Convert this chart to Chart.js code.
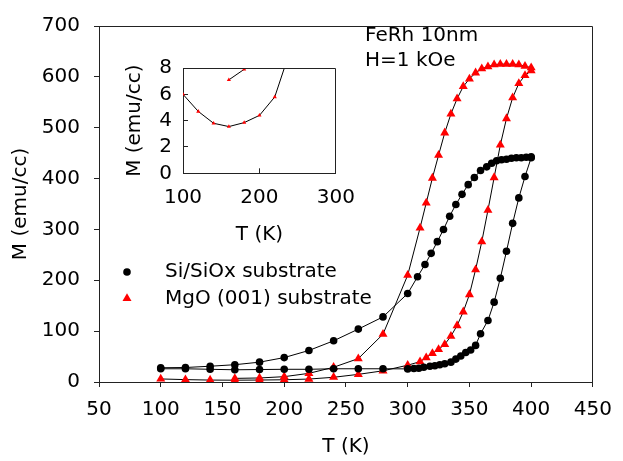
<!DOCTYPE html>
<html>
<head>
<meta charset="utf-8">
<title>FeRh 10nm M-T</title>
<script src="https://cdn.jsdelivr.net/npm/chart.js@4.4.1/dist/chart.umd.min.js"></script>
<style>
  html, body { margin: 0; padding: 0; background: #fff; }
  #wrap { position: relative; width: 623px; height: 461px; }
  #main { position: absolute; left: 0; top: 0; }
  #inset { position: absolute; left: 110px; top: 40px; }
</style>
</head>
<body>
<div id="wrap">
  <canvas id="main" width="623" height="461"></canvas>
  <canvas id="inset" width="262" height="220"></canvas>
</div>
<script>
// ==================== Data ====================
// Si/SiOx substrate: heating run 100 -> 400 K
const siHeatT = [100, 120, 140, 160, 180, 200, 220, 240, 260, 280, 300, 305, 309, 313, 318, 322, 326, 330, 335, 339, 343, 347, 351, 355, 359, 365, 370, 375, 380, 385, 390, 395, 400];
const siHeatM = [26, 26, 25, 24, 24.5, 25, 25, 26, 26, 26, 25.8, 26.5, 27, 29, 31, 32, 34, 36, 39, 45, 51, 58, 63, 72, 95, 121, 157, 204, 257, 312, 362, 404, 441];
// Si/SiOx substrate: cooling run 400 -> 100 K
const siCoolT = [400, 396, 392, 388, 384, 380, 376, 372, 368, 364, 359, 354, 349, 344, 339, 334, 329, 324, 319, 314, 308, 300, 280, 260, 240, 220, 200, 180, 160, 140, 120, 100];
const siCoolM = [443, 442, 441, 441, 440, 438, 437, 435, 430, 423, 416, 402, 388, 369, 349, 326, 300, 276, 253, 231, 207, 174, 128, 104, 81, 62, 48, 39, 34, 31, 28.5, 28];

// MgO (001) substrate: heating run 100 -> 400 K
const mgoHeatT = [100, 120, 140, 160, 180, 200, 220, 240, 260, 280, 300, 310, 315, 320, 325, 330, 335, 340, 345, 350, 355, 360, 365, 370, 375, 380, 385, 390, 395, 400];
const mgoHeatM = [6.0, 4.7, 3.8, 3.55, 3.85, 4.4, 5.8, 9.3, 15, 22, 33, 40, 48, 56, 64, 74, 90, 111, 138, 172, 221, 276, 338, 402, 466, 518, 559, 587, 603, 612];
// MgO (001) substrate: cooling run 400 -> 160 K
const mgoCoolT = [400, 395, 390, 385, 380, 375, 370, 365, 360, 355, 350, 345, 340, 335, 330, 325, 320, 315, 310, 300, 280, 260, 240, 220, 200, 180, 160];
const mgoCoolM = [618, 621, 624, 625, 625, 625, 624, 620, 616, 608, 596, 581, 557, 527, 490, 446, 401, 352, 303, 210, 94, 46, 29, 17, 10.5, 7.9, 7.1];

const mainXTicks = [50, 450, 50];   // min, max, step
const mainYTicks = [0, 700, 100];
const insetXTicks = [100, 300, 100];
const insetYTicks = [0, 8, 2];

const notes = ['FeRh 10nm', 'H=1 kOe'];

// ==================== Setup ====================
const AXIS = '#222';
Chart.defaults.font.family = 'DejaVu Sans';
Chart.defaults.font.size = 20;
Chart.defaults.color = '#000';
Chart.defaults.animation = false;

// heating points followed by cooling points, so the line closes the loop
function loop(tUp, mUp, tDown, mDown) {
    const up = tUp.map((t, i) => ({x: t, y: mUp[i]}));
    const down = tDown.map((t, i) => ({x: t, y: mDown[i]}));
    return up.concat(down);
}

const siLoop = loop(siHeatT, siHeatM, siCoolT, siCoolM);
const mgoLoop = loop(mgoHeatT, mgoHeatM, mgoCoolT, mgoCoolM);

// top + right edges of the plot box
const frame = {
    id: 'frame',
    afterDraw(chart) {
        const {ctx, chartArea: a} = chart;
        ctx.save();
        ctx.strokeStyle = AXIS;
        ctx.lineWidth = 1;
        ctx.beginPath();
        ctx.moveTo(Math.round(a.left) + 0.5, Math.round(a.top) + 0.5);
        ctx.lineTo(Math.round(a.right) - 0.5, Math.round(a.top) + 0.5);
        ctx.lineTo(Math.round(a.right) - 0.5, Math.round(a.bottom) + 0.5);
        ctx.stroke();
        ctx.restore();
    }
};

// legend + sample note, placed inside the plot
const labels = {
    id: 'labels',
    afterDraw(chart) {
        const ctx = chart.ctx;
        ctx.save();
        ctx.font = '20px "DejaVu Sans"';
        ctx.textBaseline = 'middle';
        ctx.textAlign = 'left';
        chart.data.datasets.forEach((ds, i) => {
            const y = 272 + i * 26.5;
            ctx.fillStyle = ds.pointBackgroundColor;
            Chart.helpers.drawPoint(ctx, {pointStyle: ds.pointStyle, radius: ds.pointRadius, rotation: 0, borderWidth: 0}, 127, y);
            ctx.fillStyle = '#000';
            ctx.fillText(ds.label, 165, y);
        });
        notes.forEach((t, i) => ctx.fillText(t, 365, 36 + i * 25));
        ctx.restore();
    }
};

function axisOpts(t, tickLen, pad) {
    return {
        type: 'linear', min: t[0], max: t[1],
        ticks: {stepSize: t[2], padding: pad, autoSkip: false, maxRotation: 0},
        grid: {drawOnChartArea: false, tickLength: tickLen, tickColor: AXIS},
        border: {color: AXIS, width: 1}
    };
}

// ==================== Main chart ====================
const mx = axisOpts(mainXTicks, 5, 11);
mx.title = {display: true, text: 'T (K)', padding: {top: 0, bottom: 2}};
mx.afterFit = s => { s.height = 79; };
const my = axisOpts(mainYTicks, 5, 14);
my.title = {display: true, text: 'M (emu/cc)', padding: {top: 9, bottom: 0}};
my.afterFit = s => { s.width = 99; };

new Chart(document.getElementById('main'), {
    type: 'line',
    data: {datasets: [
        {label: 'Si/SiOx substrate', data: siLoop, borderColor: '#000', borderWidth: 1, tension: 0,
         pointStyle: 'circle', pointRadius: 3.8, pointBackgroundColor: '#000', pointBorderWidth: 0},
        {label: 'MgO (001) substrate', data: mgoLoop, borderColor: '#000', borderWidth: 1, tension: 0,
         pointStyle: 'triangle', pointRadius: 5.2, pointBackgroundColor: '#ff0000', pointBorderWidth: 0}
    ]},
    options: {
        responsive: false,
        layout: {padding: {top: 18, right: 20, left: 0, bottom: 0}},
        plugins: {legend: {display: false}, tooltip: {enabled: false}},
        scales: {x: mx, y: my}
    },
    plugins: [frame, labels]
});

// ==================== Inset (low-T zoom of MgO run) ====================
const ix = axisOpts(insetXTicks, -5, 17);
ix.title = {display: true, text: 'T (K)', padding: {top: 0, bottom: 13}};
ix.afterFit = s => { s.height = 86.7; };
const iy = axisOpts(insetYTicks, -5, 16);
iy.title = {display: true, text: 'M (emu/cc)', padding: {top: 13, bottom: 0}};
iy.afterFit = s => { s.width = 73; };

new Chart(document.getElementById('inset'), {
    type: 'line',
    data: {datasets: [
        {label: 'MgO (001) substrate', data: mgoLoop, borderColor: '#000', borderWidth: 1, tension: 0,
         pointStyle: 'triangle', pointRadius: 2.4, pointBackgroundColor: '#ff0000', pointBorderWidth: 0}
    ]},
    options: {
        responsive: false,
        layout: {padding: {top: 12, right: 20, left: 0, bottom: 0}},
        plugins: {legend: {display: false}, tooltip: {enabled: false}},
        scales: {x: ix, y: iy}
    },
    plugins: [frame]
});
</script>
</body>
</html>
